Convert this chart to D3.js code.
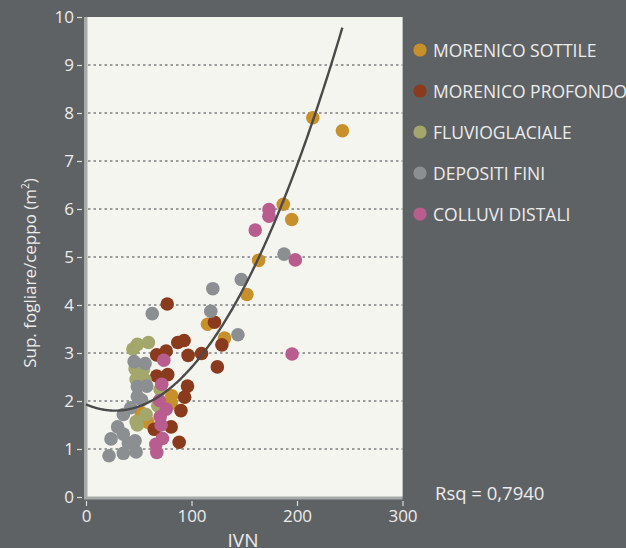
<!DOCTYPE html>
<html>
<head>
<meta charset="utf-8">
<script src="https://cdn.jsdelivr.net/npm/d3@7"></script>
<style>
  html, body { margin: 0; padding: 0; background: #5f6264; }
  svg { display: block; }
  text { font-family: "Open Sans", "Noto Sans", sans-serif; fill: #ececec; }
</style>
</head>
<body>
<svg id="chart" width="626" height="548"></svg>
<script>
// Soil groups and their colours
const categories = ["MORENICO SOTTILE", "MORENICO PROFONDO", "FLUVIOGLACIALE", "DEPOSITI FINI", "COLLUVI DISTALI"];
const colors = ["#c8902b", "#8b3b1d", "#a4a76b", "#8b8f91", "#b95d8f"];

// [IVN, leaf area per stump (m²)] for each group
const morenicoSottile = [
  [243, 7.63], [215, 7.90], [187, 6.10], [195, 5.78], [163.6, 4.93], [152.5, 4.22],
  [115.2, 3.60], [131.3, 3.31], [81.3, 2.11], [80.7, 1.95], [58.5, 1.56], [52.2, 1.76]
];
const morenicoProfondo = [
  [77, 4.02], [121.8, 3.64], [128.8, 3.17], [109.5, 2.99], [124.5, 2.71], [96.8, 2.95],
  [87, 3.22], [93, 3.26], [67, 2.96], [76, 3.04], [67, 2.52], [77.5, 2.55],
  [96.2, 2.31], [93.5, 2.08], [90, 1.80], [64.8, 1.41], [80.7, 1.46], [88.3, 1.14]
];
const fluvioglaciale = [
  [44.5, 3.08], [48.7, 3.18], [59.2, 3.22], [46.5, 2.67], [54.4, 2.66], [47.5, 2.45],
  [56, 2.44], [70.3, 2.24], [68, 1.90], [57, 1.72], [47.5, 1.57], [48.7, 1.50]
];
const depositiFini = [
  [187.7, 5.06], [147.2, 4.53], [120.2, 4.34], [118.3, 3.87], [144, 3.38], [62.8, 3.82],
  [45.6, 2.82], [56, 2.78], [48.7, 2.30], [57.6, 2.31], [48.7, 2.09], [52.8, 2.02],
  [42.4, 1.86], [35.4, 1.72], [30, 1.46], [35.4, 1.31], [23.7, 1.21], [46.5, 1.17],
  [40.2, 1.12], [21.8, 0.86], [35.4, 0.91], [47.5, 0.94]
];
const colluviDistali = [
  [173.4, 5.99], [173.4, 5.85], [160.4, 5.56], [198.4, 4.94], [195.3, 2.98], [73.8, 2.85],
  [71.8, 2.35], [69.6, 2.01], [76, 1.83], [70.3, 1.67], [71.2, 1.50], [72.5, 1.22],
  [66.2, 1.10], [67.1, 0.93]
];
const seriesValues = [morenicoSottile, morenicoProfondo, fluvioglaciale, depositiFini, colluviDistali];

// Axis ticks
const xTicks = [0, 100, 200, 300];
const yTicks = [0, 1, 2, 3, 4, 5, 6, 7, 8, 9, 10];
const gridValues = [1, 2, 3, 4, 5, 6, 7, 8, 9];

// Quadratic regression y = a + b·x + c·x²
const fitCoefficients = [1.93, -0.0095, 0.000172];
const rsqLabel = "Rsq = 0,7940";

const svg = d3.select("#chart");
const x = d3.scaleLinear().domain([0, 300]).range([86, 402.5]);
const y = d3.scaleLinear().domain([0, 10]).range([497, 17]);

// Plot panel with a grey rim on the left and bottom
svg.append("rect")
  .attr("x", 84).attr("y", y(10))
  .attr("width", x(300) - 84).attr("height", 499.5 - y(10))
  .attr("fill", "#a8a9a9");
svg.append("rect")
  .attr("x", 87.5).attr("y", y(10))
  .attr("width", x(300) - 87.5).attr("height", 496.5 - y(10))
  .attr("fill", "#f5f5f0");

// Dotted horizontal gridlines
svg.append("g").selectAll("line").data(gridValues).join("line")
  .attr("x1", 88).attr("x2", x(300))
  .attr("y1", d => y(d)).attr("y2", d => y(d))
  .attr("stroke", "#7d7f80").attr("stroke-width", 1.3)
  .attr("stroke-dasharray", "2.5,3");

// Axes
const yAxis = svg.append("g")
  .attr("transform", "translate(82,0)")
  .call(d3.axisLeft(y).tickValues(yTicks).tickSize(5).tickPadding(3));
const xAxis = svg.append("g")
  .attr("transform", "translate(0,501)")
  .call(d3.axisBottom(x).tickValues(xTicks).tickSize(5).tickPadding(4));
[xAxis, yAxis].forEach(g => {
  g.select(".domain").remove();
  g.selectAll(".tick line").attr("stroke", "#dcdcdc").attr("stroke-width", 1.2);
  g.selectAll(".tick text")
    .attr("fill", "#ececec")
    .style("font-family", "'Open Sans', 'Noto Sans', sans-serif")
    .style("font-size", "17px");
});

// Points, drawn group by group
const plot = svg.append("g");
seriesValues.forEach((vals, i) => {
  plot.append("g").selectAll("circle").data(vals).join("circle")
    .attr("cx", d => x(d[0]))
    .attr("cy", d => y(d[1]))
    .attr("r", 6.8)
    .attr("fill", colors[i]);
});

// Fitted curve over the observed IVN range
const maxX = d3.max(seriesValues.flat(), d => d[0]);
const fitX = d3.range(0, maxX + 0.5, 1);
const fit = v => fitCoefficients[0] + fitCoefficients[1] * v + fitCoefficients[2] * v * v;
svg.append("path")
  .datum(fitX)
  .attr("d", d3.line().x(v => x(v)).y(v => y(fit(v))))
  .attr("fill", "none")
  .attr("stroke", "#4a4a4a")
  .attr("stroke-width", 2.4);

// Legend
const legend = svg.append("g");
categories.forEach((c, i) => {
  const ly = 50 + i * 41;
  legend.append("circle").attr("cx", 420).attr("cy", ly).attr("r", 6.6).attr("fill", colors[i]);
  legend.append("text").attr("x", 433).attr("y", ly + 6.5)
    .style("font-size", "17.5px").text(c);
});

// Axis titles
const yTitle = svg.append("text")
  .attr("transform", "translate(36,273) rotate(-90)")
  .attr("text-anchor", "middle")
  .style("font-size", "17px");
yTitle.append("tspan").text("Sup. fogliare/ceppo (m");
yTitle.append("tspan").attr("dy", -7).style("font-size", "10px").text("2");
yTitle.append("tspan").attr("dy", 7).text(")");

svg.append("text")
  .attr("x", 243).attr("y", 547)
  .attr("text-anchor", "middle")
  .style("font-size", "19px")
  .text("IVN");

svg.append("text")
  .attr("x", 435).attr("y", 500)
  .style("font-size", "18.5px")
  .text(rsqLabel);
</script>
</body>
</html>
